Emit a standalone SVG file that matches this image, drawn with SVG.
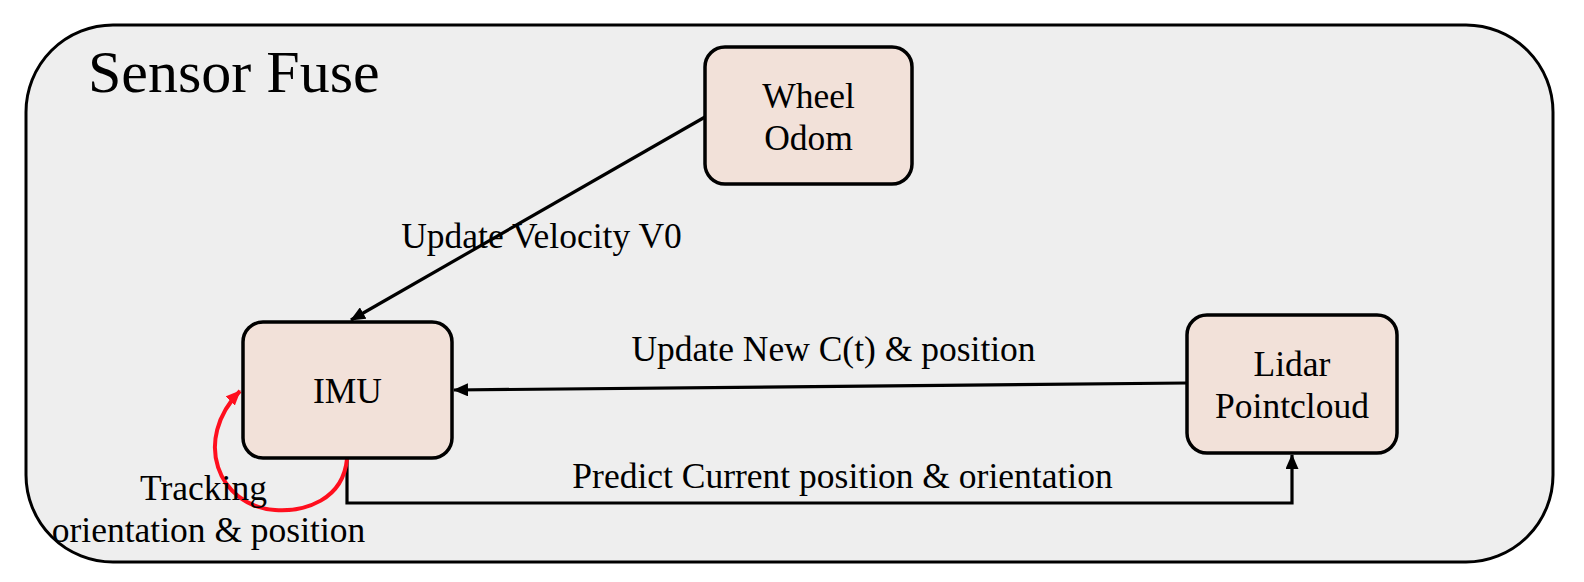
<svg xmlns="http://www.w3.org/2000/svg" width="1584" height="582" viewBox="0 0 1584 582">
<defs>
<style>
.t{font-family:"Liberation Serif","Times New Roman",serif;font-size:35.5px;fill:#000}
.node rect{fill:#f2e1d9;stroke:#000;stroke-width:3.5}
.conn{fill:none;stroke:#000;stroke-width:3.2}
</style>
<marker id="ah" markerUnits="userSpaceOnUse" markerWidth="15" markerHeight="13" refX="14" refY="6.5" orient="auto">
<path d="M0,0 L15,6.5 L0,13 z" fill="#000"/>
</marker>
<marker id="ahr" markerUnits="userSpaceOnUse" markerWidth="15" markerHeight="13" refX="14" refY="6.5" orient="auto">
<path d="M0,0 L15,6.5 L0,13 z" fill="#ff0f1e"/>
</marker>
</defs>
<g id="frame">
<rect x="26" y="25" width="1527" height="537" rx="87" ry="87" fill="#eeeeee" stroke="#000" stroke-width="3"/>
<text x="88" y="92" font-family="Liberation Serif, Times New Roman, serif" font-size="60">Sensor Fuse</text>
</g>
<g id="connectors">
<line class="conn" x1="705" y1="117" x2="351" y2="320" marker-end="url(#ah)"/>
<line class="conn" x1="1187" y1="383" x2="454" y2="390" marker-end="url(#ah)"/>
<path class="conn" d="M347,459 L347,503 L1292,503 L1292,455" marker-end="url(#ah)"/>
<path d="M347,459 C343,500 305,512 275,510 C218,506 192,440 240,391" fill="none" stroke="#ff0f1e" stroke-width="4" marker-end="url(#ahr)"/>
<text class="t" x="541.5" y="248" text-anchor="middle">Update Velocity V0</text>
<text class="t" x="833.5" y="361" text-anchor="middle">Update New C(t) &amp; position</text>
<text class="t" x="842.5" y="488" text-anchor="middle">Predict Current position &amp; orientation</text>
<text class="t" x="203.5" y="500" text-anchor="middle">Tracking</text>
<text class="t" x="208.5" y="542" text-anchor="middle">orientation &amp; position</text>
</g>
<g id="wheel-odom" class="node">
<rect x="705" y="47" width="207" height="137" rx="20" ry="20"/>
<text class="t" x="808.5" y="108" text-anchor="middle">Wheel</text>
<text class="t" x="808.5" y="150" text-anchor="middle">Odom</text>
</g>
<g id="imu" class="node">
<rect x="243" y="322" width="209" height="136" rx="20" ry="20"/>
<text class="t" x="347.5" y="403" text-anchor="middle">IMU</text>
</g>
<g id="lidar" class="node">
<rect x="1187" y="315" width="210" height="138" rx="20" ry="20"/>
<text class="t" x="1292" y="376" text-anchor="middle">Lidar</text>
<text class="t" x="1292" y="418" text-anchor="middle">Pointcloud</text>
</g>
</svg>
